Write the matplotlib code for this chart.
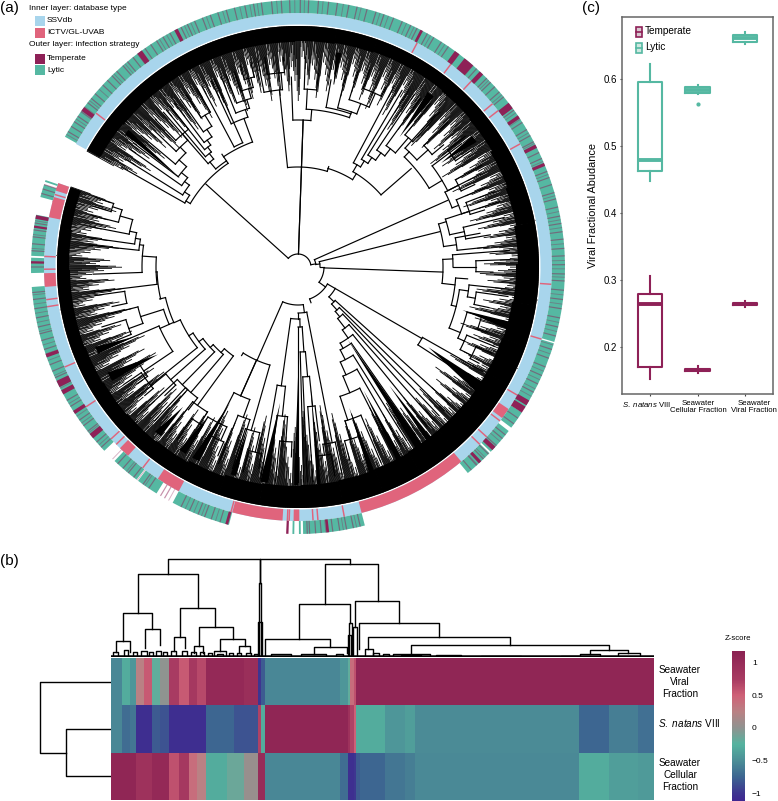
# -*- coding: utf-8 -*-
import numpy as np
import matplotlib
matplotlib.use('Agg')
import matplotlib.pyplot as plt
from matplotlib.colors import LinearSegmentedColormap, Normalize
from matplotlib.cm import ScalarMappable
from matplotlib.patches import Rectangle
from matplotlib.lines import Line2D

plt.rcParams['font.family'] = ['Liberation Sans', 'DejaVu Sans']
plt.rcParams['mathtext.fontset'] = 'custom'
plt.rcParams['mathtext.rm'] = 'Liberation Sans'
plt.rcParams['mathtext.it'] = 'Liberation Sans:italic'

W, H = 778, 801
BLUE = '#a8d5ec'
PINK = '#e0647c'
MAROON = '#8e2157'
TEAL = '#55b8a2'

# ---- (a) tree: one row per internal node
# radius, angle of child a, angle of child b, end radius a, end radius b
tree_rows = [
    (13, 138, 10, 124, 18), (13, 88, 88, 100, 100), (18, 24, 8, 164, 22), (22, 14, 0, 146, 26),
    (26, -2, -36, 145, 34), (34, -30, -70, 43, 38), (38, -113.7, -82, 102, 46),
    (125, 149.5, 124, 130, 128),
    (130, 150.5, 146.5, 203, 136), (136, 148, 143, 203, 142), (142, 145, 141, 206, 150),
    (150, 143, 138, 206, 160), (160, 140, 134.5, 205, 168), (168, 136.5, 131, 205, 176),
    (176, 134, 128.5, 205, 205),
    (128, 130, 124, 137, 133),
    (137, 131, 128, 205, 144), (144, 130, 127, 205, 150), (150, 128.5, 125.6, 205, 156),
    (156, 127, 123.5, 205, 165), (165, 125, 121.5, 205, 178), (178, 123, 119.5, 205, 205),
    (133, 124, 110, 136, 158), (136, 118, 114, 205, 205),
    (158, 115, 108.5, 205, 166), (166, 112, 107, 205, 175), (175, 110.5, 105.5, 205, 185),
    (185, 108, 104, 205, 195), (195, 106, 103, 210, 210),
    (100, 96, 73, 178, 103), (100, 88, 88, 147, 147),
    (178, 101, 95, 212, 195), (195, 99, 94, 212, 210),
    (147, 92, 85, 190, 158), (158, 87, 71, 178, 162), (178, 88, 84, 210, 195),
    (162, 80, 71, 190, 164), (164, 76, 69, 200, 175), (175, 73, 66, 205, 190), (190, 70, 64, 210, 200),
    (103, 73, 58, 105, 110), (110, 60, 41, 118, 150),
    (118, 62, 58, 205, 125), (125, 59.5, 56, 205, 132), (132, 58, 54, 208, 141),
    (141, 56, 52, 208, 150), (150, 54, 49.5, 208, 170), (170, 51, 47.5, 210, 210),
    (153, 46, 31, 160, 168), (160, 48, 42, 205, 175), (175, 44, 40, 208, 190),
    (168, 37, 27, 205, 205), (190, 38, 34, 212, 212),
    (165, 27, 21, 180, 172), (180, 29, 25, 210, 195), (172, 23, 18, 205, 180), (180, 21, 17, 210, 195),
    (147, 17, 8, 155, 160), (155, 18, 12, 212, 170), (170, 13.5, 9.5, 212, 195), (160, 10.5, 6, 185, 192),
    (145, 3, -6.5, 155, 158), (155, 4.5, 0, 212, 178), (178, 2, -1.5, 212, 195),
    (158, -4, -14, 170, 163), (163, -8, -22, 172, 175), (172, -6, -10, 212, 180), (180, -8, -12, 212, 195),
    (175, -15, -24, 190, 182), (190, -15, -19, 212, 200), (182, -22, -27, 212, 195), (195, -24, -28, 212, 205),
    (43, -30, -44, 143, 50), (143, -29.5, -33, 212, 180),
    (50, -42, -47.8, 205, 58), (58, -44.5, -50, 205, 65), (65, -46.5, -52.4, 205, 77),
    (77, -48.5, -54.8, 205, 87), (87, -51, -61, 205, 93), (93, -55, -63, 205, 104),
    (104, -58, -66, 205, 118), (118, -60, -67.6, 205, 136), (136, -63, -72, 205, 161),
    (161, -67, -73, 212, 180), (180, -70, -75, 212, 200),
    (46, -90, -79, 52, 179), (179, -78, -82, 212, 190), (190, -80, -84, 212, 200),
    (52, -98, -88, 120, 60), (60, -90, -86, 215, 85), (85, -88.5, -85, 215, 110),
    (110, -87.5, -84, 215, 140), (140, -86, -83, 215, 175),
    (120, -100, -96, 215, 150), (150, -98, -94, 215, 175), (175, -96, -92, 215, 190),
    (102, -122.5, -106, 105, 170), (102, -114, -114, 141, 141),
    (141, -117, -110, 175, 160), (160, -112, -107.5, 212, 212),
    (170, -108, -103, 212, 190), (190, -105, -101, 212, 205),
    (175, -121, -114, 212, 190), (190, -118, -113, 212, 205),
    (110, -132, -126, 115, 171), (171, -128, -122, 210, 185), (185, -125, -121, 210, 200),
    (115, -137.5, -130.5, 119, 165), (165, -133, -127.5, 210, 180),
    (119, -143, -134.5, 124, 165), (165, -137, -132, 210, 185),
    (124, -147.8, -138.5, 129, 170), (170, -141, -136, 205, 185),
    (129, -155.8, -141.3, 136, 189), (189, -146, -140, 210, 200),
    (136, -167, -156, 141, 141), (141, -162.5, -156, 165, 151),
    (165, -166, -160, 195, 180), (180, -163, -158, 205, 195),
    (151, -157, -146, 205, 186), (186, -149, -144, 210, 198),
    (141, -178, -167, 142, 142), (142, -173, -184, 205, 156), (156, -178, -188, 205, 160),
    (160, -186, -190, 210, 165), (165, -188, -192, 212, 172), (172, -191, -196, 212, 185),
    (185, -194, -198, 212, 195), (195, -196.5, -199, 214, 214), (175, -172, -168, 205, 190),
]

# black wedges: apex angle, apex radius, base angle 1, base angle 2
fan_rows = [
    (52, 165, 51.5, 53.5), (36, 177, 35, 37), (79, 187, 78.5, 80), (-55.6, 88, -55, -57),
    (-31.6, 153, -32, -35), (-52.4, 150, -52, -53.5), (-14.7, 170, -14.5, -16.5), (143, 147, 141, 142.5),
    (-148, 165, -148.5, -151), (-157, 179, -156.5, -158.5), (-116.6, 152, -117, -119), (-129.4, 181, -129, -131),
    (-121, 175, -121, -123), (-97.5, 137, -98, -100), (-90, 110, -90, -91), (-84, 120, -84, -85),
    (-70, 150, -69.5, -71), (-62, 140, -61.5, -63), (-107, 170, -106.5, -108),
]

# first radius of the tips, left end of the tree to upper left end
tip_start = [
    198, 205, 190, 208, 212, 196, 204, 186, 200, 210, 214, 192, 206, 180, 198, 208, 216, 188, 202, 176,
    194, 206, 212, 184, 200, 210, 178, 196, 208, 216, 182, 198, 206, 172, 190, 204, 214, 186, 200, 210,
    178, 194, 206, 168, 186, 200, 212, 174, 190, 204, 166, 182, 198, 210, 176, 192, 206, 170, 186, 202,
    214, 180, 196, 208, 172, 188, 204, 168, 184, 200, 212, 178, 194, 206, 174, 190, 204, 170, 186, 200,
    172, 188, 202, 160, 178, 196, 210, 168, 186, 204, 156, 176, 194, 208, 166, 184, 202, 152, 174, 192,
    206, 164, 182, 200, 148, 170, 190, 206, 160, 180, 198, 144, 168, 188, 204, 156, 178, 196, 140, 166,
    184, 204, 150, 172, 192, 208, 160, 180, 198, 156, 176, 196, 210, 166, 186, 204, 158, 178, 198, 170,
    190, 206, 162, 184, 202, 174, 194, 208, 168, 188, 204, 176, 196, 210, 172, 192, 206, 180, 198, 212,
    178, 196, 210, 170, 190, 206, 182, 200, 214, 176, 194, 208, 186, 202, 216, 180, 198, 210, 188, 204,
    172, 192, 208, 184, 200, 214, 176, 194, 206, 188, 204, 216, 180, 198, 210, 190, 206, 182, 200, 212,
    186, 202, 214, 192, 206, 180, 198, 210, 188, 204, 216, 184, 200, 212, 178, 196, 208, 190, 204, 176,
    194, 206, 182, 200, 212, 172, 190, 204, 180, 198, 210, 170, 188, 202, 176, 194, 206, 168, 186, 200,
    180, 196, 208, 172, 190, 204, 166, 184, 200, 212, 176, 192, 206, 170, 188, 202, 164, 182, 198, 210,
    174, 192, 206, 180, 196, 208, 172, 190, 204, 178, 194, 206, 182, 198, 210, 176, 192, 204, 186, 200,
    178, 194, 206, 170, 188, 202, 182, 198, 210, 166, 186, 200, 176, 192, 206, 172, 190, 204, 168, 184,
    198, 178, 194, 208, 174, 190, 202, 164, 182, 198, 176, 192, 206, 170, 186, 200, 180, 196, 208, 172,
    190, 204, 176, 192, 206, 170, 188, 202, 180, 196, 208, 174, 190, 204, 168, 186, 200, 178, 194, 206,
    172, 188, 202, 184, 198, 208, 176, 192, 204, 186, 200,
]

# inner edge of the solid black band, every 10 degrees
solid_inner = [230, 229, 228, 228, 227, 226, 225, 224, 222, 220, 219, 218, 217, 216, 215, 215, 216, 216,
               217, 218, 220, 222, 224, 226, 227, 228, 228, 227, 226, 225, 225, 225, 225, 225, 226, 227]

# rings, degrees
pink_runs = [(-199.3, -197.5), (-196, -191.3), (-178.6, -175.5), (-134.5, -132), (-123.5, -118),
             (-105, -93.5), (-91, -89.7), (-75.5, -50), (-36.5, -34)]
pink_lines = [-198, -196.6, -195, -182.4, -179.5, -172.6, -171, -156.8, -146.6, -137.4, -135.7, -127.7,
              -105.3, -92.4, -92, -86.6, -85.5, -79.5, -44.3, -42, -37.3, -30.3, -16.5, -3.9, 29, 38,
              40, 47, 53, 62, 142.7]
lytic_runs = [(-199, -198.6), (-198, -195.2), (-191.3, -182.4), (-182, -178.7), (-175.7, -136.5),
              (-133.4, -127.2), (-126.8, -122), (-118, -105), (-91.2, -90.8), (-89.8, -89.4),
              (-88.9, -75.5), (-50.5, -44.2), (-43.8, -37.9), (-37, -33), (-32, -16.6), (-16.3, 150.8)]
temperate_thick = [(50.2, 2.4), (53.4, 1.2), (46.6, 1), (37.2, 1.5), (34.2, 0.8), (26.9, 0.8), (22.6, 0.7),
                   (143.7, 1), (126.4, 1.2), (117.2, 0.8), (62.4, 0.6), (-154, 1.5), (-152, 1), (-160.6, 0.8),
                   (-140.7, 1.2), (-147, 0.8), (-83.6, 0.6), (-105.5, 0.6), (-47, 0.7), (-42.8, 1),
                   (-32.3, 1.5), (-30.6, 1.2), (-190.8, 0.8), (-188.7, 0.5), (-181, 0.5), (-92.3, 0.5)]
temperate_thin = [
    149.5, 148.2, 147, 145.6, 144.4, 142, 140.8, 139.5, 137, 135.6, 134.2, 132.8, 131, 129.7, 128.2, 125, 123.5,
    122, 120.4, 118.7, 116, 114.5, 112.8, 111, 109.2, 107.5, 105.6, 103.8, 101.5, 99.6, 97.9, 95.7, 93.6, 91.8,
    89.5, 87.7, 85.6, 83.4, 81.5, 79, 77.2, 75, 73, 71.2, 69, 67, 65, 63.5, 61, 59.4, 57.5, 55.7,
    48, 45, 43.8, 42.5, 41, 39.6, 36, 32.8, 31, 29.5, 28, 25.4, 24, 21, 19.6, 18, 16.2, 14.8, 13, 11, 9.4, 7.6,
    6, 4, 2.4, 0.5, -1.5, -3, -5, -7, -9, -11, -13, -15, -18, -20, -22, -24, -26, -28, -34.5, -36, -39, -40, -42,
    -44.5, -46, -48, -49.5, -76.5, -78, -79.5, -81, -82.5, -85, -86.2, -87.5, -88,
    -107, -109, -110.5, -112, -114, -116, -120, -121, -124, -125.5, -128, -129.5, -131, -132.5, -137.5, -139,
    -142, -143.5, -145, -148.5, -150, -155.5, -157, -158.5, -162, -164, -165.5, -167, -169, -171, -173, -174.5,
    -180, -181, -183.5, -185, -186.5, -188, -189.5, -196, -197, -198,
]
temperate_faint = [
    150.2, 146.3, 143.1, 141.4, 138.2, 133.6, 130.4, 127, 126.1, 121.3, 119.5, 115.2, 113.7, 110.1, 106.4, 102.6,
    100.4, 98.8, 94.6, 90.7, 88.6, 84.6, 80.2, 76.3, 72.1, 70.2, 66, 64.2, 60.2, 56.6, 49, 44.4, 40.2, 35.3, 33.6,
    30.2, 27.6, 23.3, 20.3, 15.5, 12, 10.2, 8.5, 5, 1.4, -0.4, -2.2, -6, -8, -12, -14, -17, -19, -23, -25, -27.2,
    -29, -40.8, -45.5, -47.8, -77.3, -80.2, -84, -108, -111.2, -113, -115, -119, -125, -127, -130, -134, -138.2,
    -141.6, -144.2, -146, -149.2, -153, -156, -159.5, -161, -163, -166, -168, -170, -172, -174, -184, -187, -190,
]

# ---- (b) heatmap, columns are cut at col_edges
col_edges = [0, 11, 18.7, 25, 32.7, 41, 49.3, 57.7, 67.7, 77.7, 86, 95, 116, 122.7, 132.7, 136, 146.5,
             150, 154, 229, 236.5, 239, 243, 245, 249, 274, 294, 304, 404, 468, 497.5, 526.5, 543]
viral = [-0.55, -0.3, -0.45, 0.25, 0.55, -0.2, 0.0, 0.75, 0.55, 0.8, 0.65, 1.05, 1.05, 1.05, 0.95, 0.95, -1.0,
         -0.8, -0.55, -0.45, -0.2, 0.4, 0.6, 1.1, 1.1, 1.1, 1.1, 1.1, 1.1, 1.1, 1.1, 1.1]
natans = [-0.55, -0.7, -0.65, -1.05, -1.05, -0.8, -0.85, -1.05, -1.05, -1.05, -1.05, -0.75, -0.75, -0.85, -0.85,
          -0.85, 0.7, -0.3, 1.1, 1.1, 0.9, 0.7, 0.5, -0.3, -0.3, -0.45, -0.4, -0.52, -0.52, -0.75, -0.6, -0.68]
cellular = [1.1, 1.1, 1.1, 0.9, 0.9, 1.05, 1.05, 0.6, 0.8, 0.4, 0.25, -0.3, -0.15, -0.15, 0.05, 0.05, 1.0,
            1.0, -0.55, -0.7, -1.05, -1.05, -1.0, -0.8, -0.75, -0.65, -0.6, -0.53, -0.53, -0.3, -0.4, -0.42]
row_names = ['Seawater\nViral\nFraction', '$\\it{S.\\ natans}$ VIII', 'Seawater\nCellular\nFraction']

# height, x of child a, x of child b, end height a, end height b
top_dendro = [
    (97.7, 56.5, 239, 82.7, 92.7), (97.7, 149, 149, 74, 74),
    (82.7, 26.5, 86.5, 43.7, 49.3), (43.7, 11.5, 40.5, 16, 27.7), (16, 4.5, 19, 5, 5), (27.7, 34, 49, 9, 12),
    (49.3, 69, 104, 20, 29.7), (20, 63, 74, 6, 9), (29.7, 87.5, 121.5, 11, 18.3), (11, 83, 91.5, 4, 4),
    (18.3, 109, 134, 6, 11), (6, 103, 115, 2, 2), (11, 128, 139, 4, 4),
    (92.7, 214, 266.5, 52.7, 56), (52.7, 187.5, 239, 17.7, 34), (17.7, 154, 219, 2, 10), (10, 203, 236, 3, 4),
    (56, 244, 288, 30, 34.3), (34.3, 248, 328, 8, 20.3), (20.3, 257, 399, 8.3, 11.7), (8.3, 254, 261.5, 2, 2),
    (11.7, 300, 498, 2.7, 6.7), (2.7, 281.5, 319, 1, 1), (6.7, 479, 516.5, 2.7, 3.7), (2.7, 469, 489, 0.5, 0.5),
    (3.7, 506.5, 529, 0.5, 0.5),
    (74, 148, 150, 2, 2), (35, 147, 151, 2, 2), (34, 238, 241, 2, 2), (30, 242, 246, 2, 2), (22, 237, 240, 2, 2),
    (5, 2, 7, 1, 1), (7, 13, 17, 1, 1), (5, 22, 26, 1, 1), (6, 30, 36, 1, 1), (5, 38, 42, 1, 1), (6, 45, 50, 1, 1),
    (5, 52, 56, 1, 1), (6, 60, 65, 1, 1), (6, 71, 76, 1, 1), (5, 80, 85, 1, 1), (5, 89, 93, 1, 1), (4, 97, 101, 1, 1),
    (3, 106, 112, 1, 1), (4, 118, 122, 1, 1), (4, 126, 130, 1, 1), (4, 135, 140, 1, 1), (3, 143, 147, 1, 1),
    (3, 160, 180, 1, 1), (3, 190, 215, 1, 1), (3, 225, 232, 1, 1), (4, 262, 268, 1, 1), (3, 272, 278, 1, 1),
    (2.5, 290, 310, 1, 1), (2, 325, 350, 1, 1), (1.5, 370, 410, 0.5, 0.5), (1.5, 450, 468, 0.5, 0.5),
]
# distance from the heatmap, row of child a, row of child b, end distance a, end distance b
side_dendro = [(71, 0.5, 2.0, 0, 45), (45, 1.5, 2.5, 0, 0)]

z_ticks = [-1, -0.5, 0, 0.5, 1]
z_stops = [(-1.12, '#3f2790'), (-1.0, '#3e3590'), (-0.75, '#3d6691'), (-0.5, '#4c8f97'), (-0.25, '#55b39f'),
           (0.0, '#8f9390'), (0.25, '#b98184'), (0.5, '#cf6177'), (0.75, '#a83b62'), (1.18, '#8b2252')]

# ---- (c) boxes
box_groups = ['$\\it{S.\\ natans}$ VIII', 'Seawater\nCellular Fraction', 'Seawater\nViral Fraction']
box_label_x = [0.92, 2.01, 3.19]
lytic_low = [0.447, 0.578, 0.652]
lytic_q1 = [0.462, 0.580, 0.656]
lytic_med = [0.479, 0.584, 0.661]
lytic_q3 = [0.596, 0.588, 0.666]
lytic_high = [0.622, 0.592, 0.670]
lytic_out = [[], [0.563], []]
temp_low = [0.151, 0.160, 0.259]
temp_q1 = [0.169, 0.163, 0.262]
temp_med = [0.264, 0.165, 0.263]
temp_q3 = [0.278, 0.167, 0.265]
temp_high = [0.305, 0.171, 0.268]


def box_rect(left, top, right, bottom):
    return [left / W, 1 - bottom / H, (right - left) / W, (bottom - top) / H]


def px(x, y):
    return x / W, 1 - y / H


fig = plt.figure(figsize=(W / 100, H / 100), dpi=100)

# ---------------- (a)
ax = fig.add_axes(box_rect(31, 0, 565, 534), projection='polar')
ax.set_axis_off()


def ring(start, end, r0, r1, color, **kw):
    ax.bar(np.radians((start + end) / 2), r1 - r0, width=np.radians(end - start), bottom=r0,
           color=color, linewidth=0, clip_on=False, **kw)


for k, r in enumerate(solid_inner):
    a0 = -199.3 + k * 10
    a1 = min(a0 + 10.1, 151)
    ring(a0, a1, r, 241, 'black')

tip_angle = np.linspace(-199, 150.8, len(tip_start))
tip_start = np.array(tip_start)
for shift, extra in ((-0.42, 22), (-0.25, 6), (-0.08, 14), (0.08, 0), (0.25, 26), (0.42, 10)):
    ax.vlines(np.radians(tip_angle + shift), tip_start + extra, 241, color='black', lw=0.6)

for apex, r, b0, b1 in fan_rows:
    ax.fill(np.radians([apex, b0, b1]), [r, 218, 218], color='black', lw=0)

for r, ta, tb, ea, eb in tree_rows:
    t = np.radians(np.linspace(ta, tb, 30))
    ax.plot(t, np.full(30, r), color='black', lw=0.85, solid_capstyle='projecting')
    ax.plot(np.radians([ta, ta]), [r, ea], color='black', lw=0.85)
    ax.plot(np.radians([tb, tb]), [r, eb], color='black', lw=0.85)

ring(-199.3, 151, 242.5, 254, BLUE)
for a0, a1 in pink_runs:
    ring(a0, a1, 242.5, 254, PINK)
for a in pink_lines:
    ring(a - 0.17, a + 0.17, 242.5, 254, PINK)
for a0, a1 in lytic_runs:
    ring(a0, a1, 254, 267, TEAL)
for a in temperate_faint:
    ring(a - 0.1, a + 0.1, 254, 267, MAROON, alpha=0.35)
for a in temperate_thin:
    ring(a - 0.13, a + 0.13, 254, 267, MAROON, alpha=0.5)
for a, w in temperate_thick:
    ring(a - w / 2, a + w / 2, 254, 267, MAROON)

ax.set_xlim(np.radians(-200), np.radians(160))
ax.set_ylim(0, 267)

# legend of (a)
fig.text(*px(0, 8), '(a)', fontsize=11, va='center')
fig.text(*px(29, 8), 'Inner layer: database type', fontsize=6, va='center')
fig.text(*px(29, 45), 'Outer layer: infection strategy', fontsize=6, va='center')
for y, color, name in ((16, BLUE, 'SSVdb'), (28, PINK, 'ICTV/GL-UVAB'), (54, MAROON, 'Temperate'), (65, TEAL, 'Lytic')):
    x0, y0 = px(35, y + 9.5)
    fig.add_artist(Rectangle((x0, y0), 10 / W, 9.5 / H, transform=fig.transFigure, color=color, lw=0))
    fig.text(*px(47, y + 5), name, fontsize=6, va='center')

# ---------------- (b)
fig.text(*px(0, 561), '(b)', fontsize=11, va='center')
cmap = LinearSegmentedColormap.from_list(
    'zscore', [((v + 1.12) / 2.30, c) for v, c in z_stops])
norm = Normalize(-1.12, 1.18)

hm = fig.add_axes(box_rect(111, 658, 654, 800))
hm.pcolormesh(col_edges, [0, 1, 2, 3], np.array([viral, natans, cellular]), cmap=cmap, norm=norm)
hm.set_ylim(3, 0)
hm.set_axis_off()

td = fig.add_axes(box_rect(111, 555, 654, 657))
for h, xa, xb, ha, hb in top_dendro:
    td.plot([xa, xa, xb, xb], [ha, h, h, hb], color='black', lw=1.0)
td.plot([0, 543], [1, 1], color='black', lw=1.8)
td.set_xlim(0, 543)
td.set_ylim(0, 102)
td.set_axis_off()

sd = fig.add_axes(box_rect(31, 658, 111, 800))
for d, ya, yb, da, db in side_dendro:
    sd.plot([da, d, d, db], [ya, ya, yb, yb], color='black', lw=1.0)
sd.set_xlim(80, 0)
sd.set_ylim(3, 0)
sd.set_axis_off()

for y, name in zip((682, 723, 775), row_names):
    fig.text(*px(680 if '\n' in name else 658, y), name, fontsize=7.2, va='center',
             ha='center' if '\n' in name else 'left', linespacing=1.25)

cax = fig.add_axes(box_rect(732, 651, 745, 801))
cb = fig.colorbar(ScalarMappable(norm=norm, cmap=cmap), cax=cax, ticks=z_ticks)
cb.outline.set_visible(False)
cb.ax.set_yticklabels(['\u22121', '\u22120.5', '0', '0.5', '1'])
cb.ax.tick_params(length=0, labelsize=6, pad=5)
fig.text(*px(738, 638), 'Z-score', fontsize=5.6, ha='center', va='center')

# ---------------- (c)
fig.text(*px(582, 8), '(c)', fontsize=11, va='center')
bx = fig.add_axes(box_rect(622, 17, 773, 394))


def draw_boxes(low, q1, med, q3, high, out, color):
    stats = []
    for k in range(3):
        stats.append({'whislo': low[k], 'q1': q1[k], 'med': med[k], 'q3': q3[k], 'whishi': high[k], 'fliers': out[k]})
    bx.bxp(stats, positions=[1, 2, 3], widths=0.52, showcaps=False, manage_ticks=False,
           boxprops={'color': color, 'lw': 1.5}, whiskerprops={'color': color, 'lw': 1.5},
           medianprops={'color': color, 'lw': 2.8, 'solid_capstyle': 'butt'},
           flierprops={'marker': 'o', 'markersize': 2, 'markerfacecolor': color, 'markeredgecolor': color})


draw_boxes(lytic_low, lytic_q1, lytic_med, lytic_q3, lytic_high, lytic_out, TEAL)
draw_boxes(temp_low, temp_q1, temp_med, temp_q3, temp_high, [[], [], []], MAROON)

bx.set_xlim(0.41, 3.59)
bx.set_ylim(0.129, 0.693)
bx.set_xticks([1, 2, 3])
bx.set_xticklabels(['', '', ''])
for x, name in zip(box_label_x, box_groups):
    bx.text(x, -0.015, name, transform=bx.get_xaxis_transform(), fontsize=5.6, ha='center', va='top',
            linespacing=1.15, clip_on=False)
bx.set_yticks([0.2, 0.3, 0.4, 0.5, 0.6])
bx.tick_params(axis='y', labelsize=7, length=1.5, width=0.8, color='#444444', pad=2)
bx.tick_params(axis='x', length=1.5, width=0.8, color='#444444', pad=2)
bx.set_ylabel('Viral Fractional Abudance', fontsize=7.8, labelpad=4)
for s in bx.spines.values():
    s.set_color('#666666')
    s.set_linewidth(1.1)

for y, color, name in ((32, MAROON, 'Temperate'), (48, TEAL, 'Lytic')):
    x0, y0 = px(636, y + 5)
    fig.add_artist(Rectangle((x0, y0), 6 / W, 10 / H, transform=fig.transFigure,
                             facecolor='#d8c8d0' if color == MAROON else '#cfe8e0', edgecolor=color, lw=1.2))
    xa, ya = px(639, y - 7)
    xb, yb = px(639, y + 7)
    fig.add_artist(Line2D([xa, xb], [ya, yb], transform=fig.transFigure, color=color, lw=1.2, zorder=0))
    xa, ya = px(636, y)
    xb, yb = px(642, y)
    fig.add_artist(Line2D([xa, xb], [ya, yb], transform=fig.transFigure, color=color, lw=1.2))
    fig.text(*px(645, y - 1), name, fontsize=7.2, va='center')

fig.savefig('out.png', dpi=100)
